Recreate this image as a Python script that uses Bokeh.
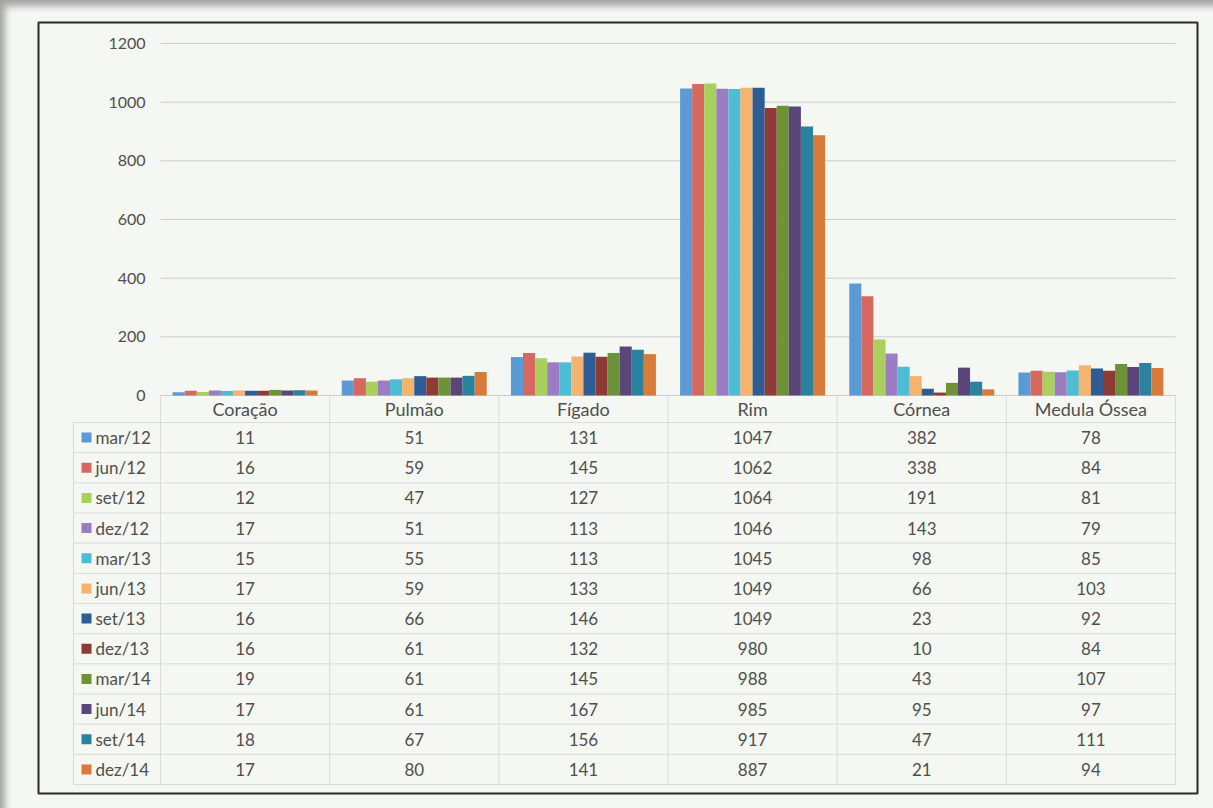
import numpy as np
from bokeh.plotting import figure
from bokeh.models import Range1d, FixedTicker, ColumnDataSource
from bokeh.core.properties import value
from bokeh.embed import file_html
from bokeh.resources import INLINE

# ---- data -------------------------------------------------------------
organs = ["Coração", "Pulmão", "Fígado", "Rim", "Córnea", "Medula Óssea"]
periods = ["mar/12", "jun/12", "set/12", "dez/12", "mar/13", "jun/13",
           "set/13", "dez/13", "mar/14", "jun/14", "set/14", "dez/14"]
coracao = [11, 16, 12, 17, 15, 17, 16, 16, 19, 17, 18, 17]
pulmao = [51, 59, 47, 51, 55, 59, 66, 61, 61, 61, 67, 80]
figado = [131, 145, 127, 113, 113, 133, 146, 132, 145, 167, 156, 141]
rim = [1047, 1062, 1064, 1046, 1045, 1049, 1049, 980, 988, 985, 917, 887]
cornea = [382, 338, 191, 143, 98, 66, 23, 10, 43, 95, 47, 21]
medula = [78, 84, 81, 79, 85, 103, 92, 84, 107, 97, 111, 94]
y_ticks = [0, 200, 400, 600, 800, 1000, 1200]

series_colors = ["#5b9bd5", "#d5685f", "#a9cf5c", "#9a7dc2", "#4cbdd4", "#f4b46e",
                 "#2e5d96", "#8e3a35", "#6e9238", "#5a4678", "#2a839e", "#d77a3a"]

# ---- page geometry (pixels) -------------------------------------------
W, H = 1213, 808
BOX_L, BOX_R, BOX_T, BOX_B = 38, 1197, 22, 793      # black frame around chart+table
PLOT_L, PLOT_R = 160, 1175                          # plot area / table columns
ZERO_PX, MAX_PX = 395, 43                           # pixel rows of 0 and 1200
TABLE_TOP_PX, ROW_PX, HDR_PX, LEG_PX = 422, 30.17, 27, 87

PAGE = "#f4f7f2"
TXT = "#4f4f4f"
GRID = "#d8dbd8"
FONT = value("Lato")

n_org = len(organs)
n_per = len(periods)
values = np.array([coracao, pulmao, figado, rim, cornea, medula])  # organ x period

px_cat = (PLOT_R - PLOT_L) / n_org
px_val = (ZERO_PX - MAX_PX) / y_ticks[-1]

x_range = Range1d((BOX_L - PLOT_L) / px_cat, n_org + (BOX_R - PLOT_R) / px_cat)
y_range = Range1d(-(BOX_B - ZERO_PX) / px_val, (ZERO_PX - BOX_T) / px_val)
table_range = Range1d((BOX_B - TABLE_TOP_PX) / ROW_PX, (BOX_T - TABLE_TOP_PX) / ROW_PX)

p = figure(width=W, height=H, output_backend="svg", toolbar_location=None,
           x_range=x_range, y_range=y_range, x_axis_location=None,
           min_border_left=BOX_L, min_border_right=W - BOX_R,
           min_border_top=BOX_T, min_border_bottom=H - BOX_B)
p.extra_y_ranges = {"table": table_range}
p.background_fill_color = PAGE
p.border_fill_color = PAGE
p.border_fill_alpha = 0
p.outline_line_color = "#2b2b2b"
p.outline_line_width = 2
p.grid.grid_line_color = None
p.styles = {"background-color": PAGE,
            "box-shadow": "inset 9px 10px 7px -4px #a4a4a4"}

# ---- value axis and gridlines ----------------------------------------
p.yaxis.fixed_location = 0
p.yaxis.ticker = FixedTicker(ticks=y_ticks)
p.yaxis.axis_line_color = None
p.yaxis.major_tick_line_color = None
p.yaxis.minor_tick_line_color = None
p.yaxis.major_tick_out = 0
p.yaxis.major_tick_in = 0
p.yaxis.major_label_standoff = 15
p.yaxis.major_label_text_font = "Lato"
p.yaxis.major_label_text_font_size = "16px"
p.yaxis.major_label_text_color = TXT

p.segment(x0=0, x1=n_org, y0=y_ticks, y1=y_ticks, line_color="#c9ccc9", line_width=1)

# ---- clustered bars ---------------------------------------------------
group_w = 0.857
bar_w = group_w / n_per
for j, per in enumerate(periods):
    xs = np.arange(n_org) + 0.5 + (j - (n_per - 1) / 2) * bar_w
    src = ColumnDataSource(dict(x=xs, top=values[:, j]))
    p.vbar(x="x", top="top", width=bar_w, bottom=0, source=src,
           fill_color=series_colors[j], line_color=None)

# ---- data table -------------------------------------------------------
leg_w = LEG_PX / px_cat
hdr = HDR_PX / ROW_PX
T = dict(y_range_name="table")

hy = np.arange(n_per + 1)
p.segment(x0=-leg_w, x1=n_org, y0=hy, y1=hy, line_color=GRID, line_width=1, **T)
vx = np.arange(n_org + 1)
p.segment(x0=vx, x1=vx, y0=-hdr, y1=n_per, line_color=GRID, line_width=1, **T)
p.segment(x0=[-leg_w], x1=[-leg_w], y0=[0], y1=[n_per], line_color=GRID, line_width=1, **T)

# header with organ names
p.text(x=np.arange(n_org) + 0.5, y=[-hdr / 2] * n_org, text=organs,
       text_font=FONT, text_font_size="18px", text_color=TXT,
       text_align="center", text_baseline="middle", **T)

# cell values
cx, cy, ct = [], [], []
for i in range(n_org):
    for j in range(n_per):
        cx.append(i + 0.5)
        cy.append(j + 0.5)
        ct.append(str(values[i, j]))
p.text(x=cx, y=cy, text=ct, text_font=FONT, text_font_size="17px",
       text_color=TXT, text_align="center", text_baseline="middle", **T)

# legend keys and period labels
rows = np.arange(n_per) + 0.5
key_x = -leg_w + 13 / px_cat
p.rect(x=[key_x] * n_per, y=rows, width=10, height=10,
       width_units="screen", height_units="screen",
       fill_color=series_colors, line_color=None, **T)
p.text(x=[-leg_w] * n_per, y=rows, text=periods, x_offset=22,
       text_font=FONT, text_font_size="17px", text_color=TXT,
       text_align="left", text_baseline="middle", **T)

open("out.html", "w").write(file_html(p, INLINE))
